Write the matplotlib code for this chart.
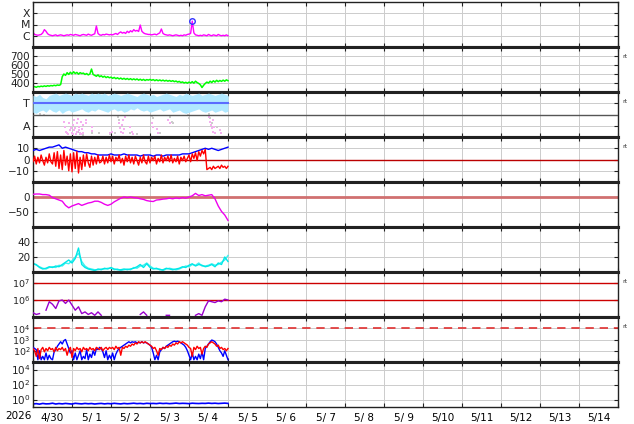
import numpy as np
import matplotlib.pyplot as plt
from matplotlib.ticker import FixedLocator, FixedFormatter, NullLocator

# x-ray flux, hourly, in 1e-6 W/m2
xray = [2.0, 1.3, 1.2, 1.1, 1.2, 1.3, 1.8, 3.5, 2.5, 1.5, 1.2,
        1.1, 1.0, 1.1, 1.2, 1.0, 1.1, 1.2, 1.1, 1.0, 1.1, 1.2, 1.1, 1.3,
        1.2, 1.1, 1.3, 1.2, 1.1, 1.0, 1.2, 1.3, 1.2, 1.1, 1.4, 1.2, 1.1, 1.3, 1.5, 7.5, 1.6, 1.2, 1.1, 1.3, 1.2, 1.4, 1.3, 1.2,
        1.3, 1.2, 1.4, 1.6, 1.3, 1.8, 2.2, 1.7, 2.0, 1.6, 2.5, 1.9, 2.8, 2.2, 3.5, 2.6, 3.0, 2.4, 9.0, 2.5, 1.8, 1.5, 1.4, 1.3,
        1.3, 1.2, 1.3, 1.4, 1.2, 1.5, 1.8, 4.0, 1.6, 1.3, 1.2, 1.1, 1.2, 1.1, 1.0, 1.1, 1.2, 1.1, 1.0, 1.1, 1.0, 1.2, 1.1, 1.3,
        1.4, 1.6, 20.0, 1.8, 1.2, 1.1, 1.0, 1.1, 1.0, 1.2, 1.1, 1.0, 1.3, 1.1, 1.0, 1.2, 1.1, 1.0, 1.3, 1.1, 1.0, 1.1, 1.0, 1.2, 1.0]
flare_t = [98 / 24]
flare_f = [2.0e-5]

# solar wind speed, hourly, km/s
speed = [355, 360, 352, 362, 358, 365, 360, 368, 362, 370, 365, 372, 368, 375, 370, 378, 374, 382,
         470, 500, 485, 515, 495, 520, 500, 525, 505, 518, 498, 515, 505,
         510, 495, 505, 490, 500, 555, 495, 485, 475, 490, 470, 480, 465, 475, 460, 470, 458,
         465, 452, 462, 448, 458, 445, 455, 442, 452, 440, 450, 438, 448, 436, 446, 435, 445, 432, 442, 430, 440, 428, 438, 432,
         440, 430, 438, 426, 436, 425, 434, 424, 432, 422, 430, 420, 428, 418, 426, 415, 422, 410, 418, 405, 412, 400, 408, 398,
         410, 400, 415, 398, 420, 405, 395, 380, 350, 375, 395, 410, 400, 420, 405, 425, 410, 430, 415, 428, 418, 432, 420, 435, 425]

# sector (T/A), 2-hourly band limits
ta_hi = [0.85, 0.8, 0.9, 0.75, 0.7, 0.85, 0.9, 0.95, 0.85, 0.9, 0.95, 0.9, 0.85, 0.95, 0.9, 0.95, 0.9, 0.85, 0.95, 0.9,
         0.95, 0.9, 0.95, 0.85, 0.9, 0.95, 0.9, 0.85, 0.9, 0.95, 0.9, 0.85, 0.8, 0.9, 0.95, 0.9, 0.85, 0.9, 0.8, 0.85,
         0.9, 0.95, 0.9, 0.85, 0.8, 0.9, 0.85, 0.95, 0.9, 0.85, 0.9, 0.95, 0.85, 0.9, 0.95, 0.9, 0.85, 0.9, 0.95, 0.9, 0.85]
ta_lo = [0.1, 0.05, 0.15, 0.2, 0.1, 0.25, 0.15, 0.1, 0.2, 0.05, 0.15, 0.2, 0.1, 0.15, 0.2, 0.25, 0.15, 0.1, 0.2, 0.15,
         0.25, 0.2, 0.15, 0.1, 0.2, 0.25, 0.15, 0.2, 0.1, 0.15, 0.25, 0.2, 0.3, 0.2, 0.15, 0.2, 0.1, 0.15, 0.2, 0.25,
         0.15, 0.2, 0.25, 0.1, 0.15, 0.2, 0.1, 0.05, 0.1, 0.15, 0.2, 0.25, 0.15, 0.1, 0.15, 0.2, 0.1, 0.15, 0.2, 0.1, 0.15]
gray_t = [0.09, 0.18, 0.27, 1.16, 1.21, 1.29, 1.50, 1.68, 1.97, 2.10, 2.19, 2.21, 2.49, 2.66, 3.04, 3.07, 3.26,
          3.51, 3.56, 3.58, 3.98, 4.01, 4.50, 4.54, 4.58, 4.62, 4.67, 4.71]
gray_v = [0.1, 0.02, -0.03, -0.76, -0.87, -0.91, -0.84, -0.84, -0.88, -0.84, -0.10, -0.24, -0.84, -0.88, -0.07, -0.17, -0.81,
          -0.10, -0.32, -0.39, -0.03, -0.17, 0.04, -0.17, -0.39, -0.24, -0.84, -0.54]
pink_t = [0.80, 0.82, 0.85, 0.88, 0.93, 0.95, 0.99, 1.03, 1.06, 1.08, 1.12, 1.14, 1.16, 1.19, 1.21, 1.22, 1.25, 1.27, 1.29,
          1.02, 0.91, 1.10, 0.97, 1.05, 1.18, 1.24, 1.36, 1.36, 1.50, 1.50, 1.97, 2.02, 2.21, 2.23, 2.25, 2.27, 2.30, 2.32,
          2.33, 2.36, 2.49, 2.53, 2.57, 3.04, 3.07, 3.17, 3.20, 3.47, 3.51, 4.50, 4.54, 4.56, 4.58, 4.61, 4.62, 4.64, 4.67,
          4.80, 4.81]
pink_v = [-0.32, -0.54, -0.76, -0.84, -0.39, -0.69, -0.81, -0.47, -0.24, -0.62, -0.76, -0.39, -0.22, -0.54, -0.84, -0.32,
          -0.66, -0.47, -0.81, -0.87, -0.88, -0.87, -0.58, -0.70, -0.68, -0.86, -0.24, -0.39, -0.54, -0.72, -0.84, -0.76,
          -0.39, -0.62, -0.76, -0.47, -0.84, -0.24, -0.66, -0.10, -0.54, -0.76, -0.87, -0.39, -0.54, -0.66, -0.81, -0.24,
          -0.39, -0.10, -0.32, -0.47, -0.62, -0.24, -0.76, -0.54, -0.84, -0.69, -0.84]

# IMF, Bt 2-hourly, Bz hourly (nT)
bt = [8, 9, 8, 9, 10, 11, 11, 12, 13, 10,
      11, 10, 9, 8, 7, 7, 6, 6, 5, 5,
      4, 4, 4, 4, 5, 4, 4, 4, 5, 4,
      4, 4, 4, 3, 4, 4, 4, 3, 4, 4,
      3, 4, 4, 4, 4, 4, 5, 5, 5, 6,
      7, 8, 9, 10, 9, 10, 9, 8, 9, 10, 11]
bz = [-2, 3, -4, 2, -3, 4, -1, -5, 2, -3, 5, -2, -4, 6, -6, 7, -8, 4, -9, 8, -5, 3, -10, 5,
      -11, 6, -8, 7, -12, 2, -9, 4, -6, 5, -3, -7, 3, -5, 2, -4, 4, -3, -2, 3, -4, 2, -3, 4,
      -2, 3, -4, 2, -1, 4, -3, 1, -5, 3, -2, 4, -3, 2, -4, 3, -1, -5, 2, -3, 4, -2, -4, 3,
      -3, 2, -1, 3, -4, 1, -2, 4, -3, 2, -1, 3, -2, 4, -3, 1, -2, 3, -4, 2, -1, 3, -2, 1,
      4, -2, 5, 1, 6, -1, 7, 3, 8, 5, 9, -9, -8, -7, -9, -6, -8, -7, -6, -8, -5, -7, -6, -8, -6]

# Dst, 2-hourly (nT)
dst = [9, 10, 10, 8, 8, 6, -2, -6, -10, -14, -28, -36, -30, -26, -22, -28, -24, -20, -18, -14,
       -14, -18, -24, -28, -24, -16, -10, -4, 0, -2, 0, -2, -3, -6, -8, -12, -14, -15, -10, -9,
       -7, -6, -4, -6, -3, -5, -2, -4, 0, 4, 12, 5, 8, 4, 6, 8, -6, -30, -48, -60, -78]

# density, 2-hourly
dens1 = [11, 10, 6, 4, 5, 7, 6, 8, 7, 10, 13, 16, 12, 18, 32, 10, 6, 4, 3, 2,
         4, 3, 5, 4, 6, 4, 3, 3, 4, 3, 4, 5, 7, 10, 6, 11, 6, 4, 5, 3,
         3, 5, 4, 3, 4, 5, 7, 6, 9, 11, 8, 10, 9, 7, 8, 10, 7, 12, 10, 20, 14]
dens2 = [12, 9, 7, 5, 4, 6, 7, 6, 9, 8, 12, 11, 15, 20, 25, 14, 8, 5, 4, 3,
         3, 4, 4, 5, 5, 3, 4, 2, 3, 4, 3, 6, 5, 8, 9, 12, 8, 5, 4, 4,
         2, 4, 5, 4, 3, 4, 6, 8, 7, 10, 9, 12, 8, 8, 9, 11, 9, 10, 13, 16, 22]

# electron flux, 2-hourly, log10
nan = np.nan
elec = [5.25, 5.15, 5.2, nan, 5.4, 5.9, 5.75, 5.5, 5.95, 6.0, 5.8, 6.0, 5.7, 5.4, 5.6, 5.2, 5.3, 5.15, 5.25, 5.1,
        5.3, 5.1, nan, nan, nan, nan, nan, nan, nan, nan, nan, nan, nan, 5.15, 5.3, 5.1, nan, nan, nan, nan,
        nan, 5.1, 5.1, nan, nan, nan, nan, nan, nan, nan, 5.1, 5.2, 5.1, 5.6, 5.95, 5.9, 5.85, 5.95, 5.9, 6.05, 6.0]

# proton flux, hourly, log10
prot_red = [2.2, 2.0, 1.5, 2.2, 1.3, 2.1, 2.3, 1.9, 2.2, 2.0, 2.3, 2.1, 2.2, 1.9, 2.3, 2.0, 2.2, 2.1, 2.3, 2.0, 2.2, 1.6, 2.1, 2.3,
            1.4, 2.2, 2.0, 2.3, 2.1, 2.2, 1.9, 2.3, 2.1, 2.2, 2.0, 2.3, 2.1, 2.2, 2.0, 2.3, 2.2, 2.1, 2.3, 2.0, 2.2, 2.3, 2.1, 2.3,
            2.2, 2.3, 2.1, 2.4, 2.2, 2.3, 1.6, 2.3, 2.2, 2.4, 2.3, 2.5, 2.4, 2.6, 2.5, 2.7, 2.6, 2.8, 2.7, 2.8, 2.7, 2.8, 2.7, 2.6,
            2.5, 2.4, 2.2, 2.3, 2.0, 1.6, 2.2, 2.1, 2.3, 2.2, 2.4, 2.3, 2.5, 2.4, 2.6, 2.5, 2.7, 2.6, 2.8, 2.7, 2.8, 2.7, 2.6, 2.5,
            2.3, 2.2, 1.5, 2.3, 2.1, 2.4, 2.2, 2.3, 1.7, 2.2, 2.4, 2.3, 2.6, 2.7, 2.8, 2.7, 2.6, 2.4, 2.5, 2.2, 2.3, 2.1, 2.2, 2.0, 2.2]
prot_blue = [2.3, 2.2, 2.1, 1.2, 2.0, 1.2, 1.5, 1.2, 1.8, 1.2, 1.6, 1.3, 1.2, 1.9, 2.1, 2.4, 2.6, 2.8, 2.6, 2.9, 3.0, 2.6, 2.2, 1.8,
             2.0, 1.2, 1.8, 1.2, 1.6, 2.0, 1.2, 1.5, 1.3, 2.1, 1.2, 1.7, 1.4, 2.0, 1.6, 2.2, 2.1, 2.3, 2.2, 1.9, 1.4, 2.0, 1.2, 1.6,
             1.3, 1.8, 1.2, 1.7, 2.0, 2.2, 2.3, 2.4, 2.5, 2.6, 2.7, 2.8, 2.7, 2.8, 2.75, 2.8, 2.7, 2.75, 2.7, 2.8, 2.7, 2.75, 2.7, 2.6,
             2.5, 2.3, 1.8, 1.2, 1.6, 1.2, 1.9, 2.1, 2.3, 2.2, 2.4, 2.5, 2.6, 2.7, 2.8, 2.85, 2.8, 2.85, 2.8, 2.7, 2.6, 2.5, 2.3, 2.0,
             1.6, 1.2, 1.8, 1.2, 1.5, 1.2, 1.7, 1.3, 1.9, 1.2, 2.2, 2.4, 2.6, 2.8, 2.95, 2.9, 2.8, 2.6, 2.3, 2.0, 1.8, 1.5, 2.0, 1.6, 1.2]

# bottom panel, 2-hourly
bottom = [0.25, 0.28, 0.24, 0.3, 0.26, 0.27, 0.32, 0.25, 0.29, 0.26, 0.3, 0.27, 0.25, 0.31, 0.28, 0.26, 0.3, 0.27, 0.29, 0.25,
          0.28, 0.3, 0.26, 0.29, 0.27, 0.31, 0.28, 0.26, 0.3, 0.27, 0.29, 0.32, 0.28, 0.3, 0.27, 0.31, 0.29, 0.3, 0.28, 0.32,
          0.29, 0.31, 0.28, 0.3, 0.33, 0.29, 0.31, 0.3, 0.28, 0.32, 0.3, 0.29, 0.31, 0.3, 0.33, 0.3, 0.32, 0.29, 0.31, 0.33, 0.3]

day_labels = ['4/30', '5/ 1', '5/ 2', '5/ 3', '5/ 4', '5/ 5', '5/ 6', '5/ 7',
              '5/ 8', '5/ 9', '5/10', '5/11', '5/12', '5/13', '5/14']


def hourly(v):
    return np.arange(len(v)) / 24.0


def twohourly(v):
    return np.arange(len(v)) / 12.0


def sci(e):
    return r'$\mathdefault{10^{%d}}$' % e


fig, axs = plt.subplots(9, 1, sharex=True, figsize=(6.34, 4.24), dpi=100,
                        gridspec_kw=dict(hspace=0, left=33 / 634, right=618 / 634,
                                         top=1 - 2 / 424, bottom=1 - 407 / 424))

gcol = '#cccccc'
for i, ax in enumerate(axs):
    ax.set_xlim(0, 15)
    ax.xaxis.set_major_locator(FixedLocator(np.arange(0, 16)))
    ax.grid(True, which='major', color=gcol, lw=0.7)
    ax.set_axisbelow(True)
    for s in ax.spines.values():
        s.set_linewidth(1.0)
        s.set_color('#222222')
    if i > 0:
        ax.spines['top'].set_linewidth(2.2)
    if i < 8:
        ax.spines['bottom'].set_linewidth(2.2)
    ax.tick_params(axis='y', which='major', direction='in', length=3, left=True, right=True,
                   labelsize=7.5, pad=2, colors='#222222')
    ax.tick_params(axis='y', which='minor', left=False, right=False)
    ax.tick_params(axis='x', which='major', direction='in', length=3, top=True, bottom=True,
                   labelbottom=False, color='#222222')

# x-ray
ax = axs[0]
ax.set_yscale('log')
ax.plot(hourly(xray), np.array(xray) * 1e-6, color='#ff00ff', lw=1)
ax.plot(flare_t, flare_f, 'o', mfc='none', mec='#3333ff', ms=4, mew=1)
ax.set_ylim(1e-7, 1e-3)
ax.yaxis.set_major_locator(FixedLocator([1e-6, 1e-5, 1e-4]))
ax.yaxis.set_major_formatter(FixedFormatter(['C', 'M', 'X']))
ax.yaxis.set_minor_locator(NullLocator())
ax.tick_params(axis='y', labelsize=7.8)

# speed
ax = axs[1]
ax.plot(hourly(speed), speed, color='#00ff00', lw=1.1)
ax.set_ylim(300, 800)
ax.set_yticks([400, 500, 600, 700])

# sector
ax = axs[2]
ta_t = twohourly(ta_hi)
ax.scatter(gray_t, gray_v, s=3, marker='s', color='#cccccc', lw=0, zorder=2)
ax.fill_between(ta_t, ta_lo, ta_hi, color='#b0e8ff', lw=0, zorder=3)
ax.scatter(pink_t, pink_v, s=3, marker='s', color='#f5b0f0', lw=0, zorder=3)
ax.axhline(0.5, xmin=0, xmax=ta_t[-1] / 15, color='#5b6cff', lw=1.5, zorder=4)
ax.axhline(0, color='#555555', lw=1, zorder=4)
ax.set_ylim(-1, 1)
ax.set_yticks([0.5, -0.5])
ax.set_yticklabels(['T', 'A'])
ax.tick_params(axis='y', labelsize=8)

# IMF
ax = axs[3]
ax.axhline(0, color='#bb0000', lw=1, zorder=2)
ax.plot(twohourly(bt), bt, color='#0000ff', lw=1, zorder=3)
ax.plot(hourly(bz), bz, color='#ff0000', lw=1, zorder=4)
ax.set_ylim(-20, 20)
ax.set_yticks([10, 0, -10])
ax.set_yticklabels(['10', '0', '\u221210'])

# Dst
ax = axs[4]
ax.axhline(0, color='#d07070', lw=2, zorder=2)
ax.plot(twohourly(dst), dst, color='#ee00ee', lw=1, zorder=3)
ax.set_ylim(-100, 50)
ax.set_yticks([0, -50])
ax.set_yticklabels(['0', '\u221250'])

# density
ax = axs[5]
ax.plot(twohourly(dens2), dens2, color='#40f0f0', lw=1)
ax.plot(twohourly(dens1), dens1, color='#00e8e8', lw=1)
ax.set_ylim(0, 60)
ax.set_yticks([20, 40])

# electrons
ax = axs[6]
ax.set_yscale('log')
for lv in [1e6, 1e7]:
    ax.axhline(lv, color='#cc0000', lw=1, zorder=2)
ax.plot(twohourly(elec), 10 ** np.array(elec), color='#9900cc', lw=1, zorder=3)
ax.set_ylim(1e5, 10 ** 7.65)
ax.yaxis.set_major_locator(FixedLocator([1e6, 1e7]))
ax.yaxis.set_major_formatter(FixedFormatter([sci(6), sci(7)]))
ax.yaxis.set_minor_locator(NullLocator())

# protons
ax = axs[7]
ax.set_yscale('log')
ln = ax.axhline(1e4, color='#e03030', lw=1.2, zorder=2)
ln.set_dashes((5, 3.5))
ax.plot(hourly(prot_blue), 10 ** np.array(prot_blue), color='#0000ff', lw=1, zorder=3)
ax.plot(hourly(prot_red), 10 ** np.array(prot_red), color='#ff0000', lw=1, zorder=4)
ax.set_ylim(1e1, 1e5)
ax.yaxis.set_major_locator(FixedLocator([1e2, 1e3, 1e4]))
ax.yaxis.set_major_formatter(FixedFormatter([sci(2), sci(3), sci(4)]))
ax.yaxis.set_minor_locator(NullLocator())

# bottom
ax = axs[8]
ax.set_yscale('log')
ax.plot(twohourly(bottom), bottom, color='#0000ff', lw=1.2)
ax.set_ylim(1e-1, 1e5)
ax.yaxis.set_major_locator(FixedLocator([1e0, 1e2, 1e4]))
ax.yaxis.set_major_formatter(FixedFormatter([sci(0), sci(2), sci(4)]))
ax.yaxis.set_minor_locator(NullLocator())
ax.xaxis.set_minor_locator(FixedLocator(np.arange(0.5, 15, 1)))
ax.xaxis.set_minor_formatter(FixedFormatter(day_labels))
ax.tick_params(axis='x', which='minor', length=0, labelsize=7.5, pad=4, labelbottom=True)
ax.tick_params(axis='x', which='major', labelbottom=False)

for i in [6, 7]:
    axs[i].tick_params(axis='y', labelsize=6.8)

for i in [1, 2, 3, 6, 7]:
    axs[i].text(1.008, 0.79, 'rt', transform=axs[i].transAxes, fontsize=4.5,
                ha='left', va='center', color='#333333')

fig.text(18 / 634, 1 - 416 / 424, '2026', ha='center', va='center', fontsize=7.5)

fig.savefig('out.png', dpi=100)
